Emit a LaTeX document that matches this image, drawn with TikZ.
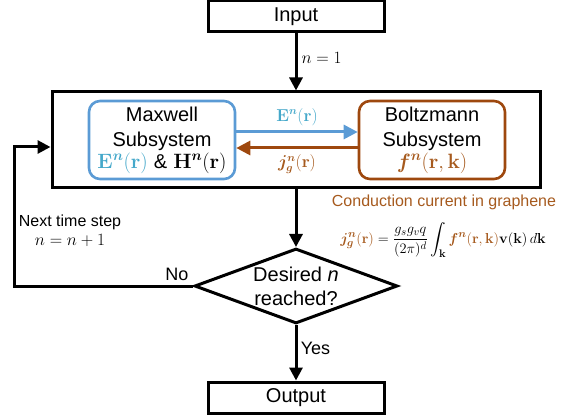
\documentclass[tikz,border=0pt]{standalone}
\usepackage{amsmath,amssymb,bm}
\usepackage[no-math]{fontspec}
\setmainfont{Liberation Sans}
\usetikzlibrary{shapes.geometric,arrows.meta}

\definecolor{maxblue}{HTML}{5B9BD5}
\definecolor{fieldblue}{HTML}{45A8CA}
\definecolor{boltzbrown}{HTML}{9E480E}
\definecolor{curbrown}{HTML}{A65A1E}

\begin{document}
\begin{tikzpicture}[x=1pt,y=-1pt,
  flow/.style={line width=3pt,-{Triangle[length=13pt,width=13pt]}},
  io/.style={draw,line width=3pt,minimum width=176pt,minimum height=31pt,
    inner sep=0pt,font=\fontsize{20}{24}\selectfont},
  subsys/.style={draw,line width=2.6pt,rounded corners=11pt,minimum width=146pt,
    minimum height=78pt,inner sep=0pt,align=center,font=\fontsize{20}{25}\selectfont},
  decision/.style={draw,diamond,line width=3pt,minimum width=203pt,
    minimum height=75pt,inner sep=0pt},
  lbl/.style={font=\fontsize{16}{19}\selectfont,inner sep=1pt}]
  \useasboundingbox (0,0) rectangle (579,417);

  % input / output
  \node[io] (input) at (296,16.5) {Input};
  \node[io] (output) at (296,397.5) {Output};

  % coupled solver
  \node[draw,line width=3pt,minimum width=488pt,minimum height=96pt,inner sep=0pt]
    (main) at (296,140) {};
  \node[subsys,draw=maxblue] (maxwell) at (162,140)
    {Maxwell\\Subsystem\\[-3pt]\fontsize{22}{25}\selectfont
     $\color{fieldblue}\mathbf{E}^{\bm{n}}(\mathbf{r})$ {\fontsize{20}{25}\selectfont\&} $\mathbf{H}^{\bm{n}}(\mathbf{r})$};
  \node[subsys,draw=boltzbrown] (boltz) at (432,140)
    {Boltzmann\\Subsystem\\[-3pt]\fontsize{22}{25}\selectfont
     $\color{curbrown}\bm{f}^{\bm{n}}(\mathbf{r},\mathbf{k})$};
  \draw[line width=3pt,maxblue,-{Triangle[length=14pt,width=14pt]}]
    ([yshift=8pt]maxwell.east) -- node[above=4pt,lbl,text=fieldblue]
    {$\mathbf{E}^{\bm{n}}(\mathbf{r})$} ([yshift=8pt]boltz.west);
  \draw[line width=3pt,boltzbrown,-{Triangle[length=14pt,width=14pt]}]
    ([yshift=-8pt]boltz.west) -- node[below=4pt,lbl,text=curbrown]
    {$\bm{j}^{\bm{n}}_{\bm{g}}(\mathbf{r})$} ([yshift=-8pt]maxwell.east);

  % stopping test
  \node[decision,label={[align=center,font=\fontsize{20}{24}\selectfont]center:Desired \textit{n}\\reached?}]
    (check) at (296,286) {};
  \coordinate (loop) at (14,286);

  \draw[flow] (input.south) -- node[pos=0.42,right=3pt,lbl] {$n=1$} (input.south |- main.north);
  \draw[flow] (main.south) -- (check.north);
  \draw[flow] (check.south) -- node[pos=0.42,right,font=\fontsize{18}{22}\selectfont] {Yes} (output.north);
  \draw[flow] (check.west) -- node[pos=0.09,above,font=\fontsize{18}{22}\selectfont] {No} (loop)
    |- ([yshift=-7pt]main.west);

  \node[lbl,align=center] (steplabel) at (70,231) {Next time step\\$n=n+1$};

  % current from the distribution function
  \node[lbl,text=curbrown] (curtitle) at (444,202) {Conduction current in graphene};
  \node[font=\fontsize{15.5}{18}\selectfont,inner sep=0pt] (cureq) at (443,240)
    {$\displaystyle{\color{curbrown}\bm{j}^{\bm{n}}_{\bm{g}}(\mathbf{r})} = \frac{g_s g_v q}{(2\pi)^d}\int_{\mathbf{k}}
     {\color{curbrown}\bm{f}^{\bm{n}}(\mathbf{r},\mathbf{k})}\mathbf{v}(\mathbf{k})\,d\mathbf{k}$};
\end{tikzpicture}
\end{document}
